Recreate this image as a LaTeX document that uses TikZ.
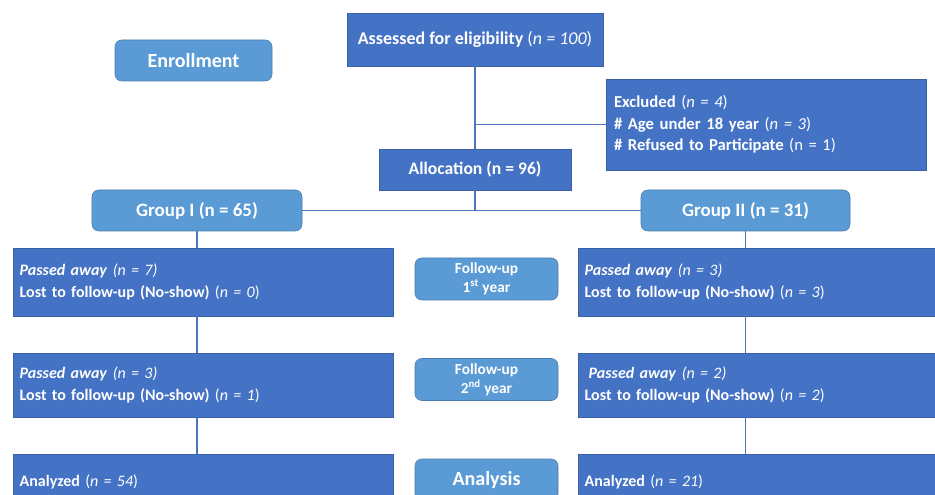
\documentclass[tikz,border=0pt]{standalone}
\usepackage{fontspec}
\setmainfont{Carlito}
\usetikzlibrary{calc,positioning}
\definecolor{darkbox}{HTML}{4472C4}
\definecolor{lightbox}{HTML}{5B9BD5}
\definecolor{linkblue}{HTML}{4A74BE}
\newcommand{\nn}[1]{\textnormal{(\textit{n = #1})}}
\newcommand{\pn}[1]{\textnormal{\textit{(n = #1)}}}

\tikzset{
  darkfill/.style={rectangle, fill=darkbox, draw=darkbox!85!black, line width=0.4pt,
    text=white, font=\bfseries\fontsize{12}{16.5}\selectfont, inner sep=0pt},
  leftbox/.style={darkfill, align=left, text width=#1, inner xsep=5pt},
  stagebox/.style={rectangle, rounded corners=5pt, fill=lightbox, draw=lightbox!80!black,
    line width=0.4pt, text=white, align=center, inner sep=0pt},
  link/.style={draw=linkblue, line width=1.1pt}
}

\begin{document}
\begin{tikzpicture}[x=0.75pt,y=-0.75pt]
\useasboundingbox (0,0) rectangle (935,495);
\clip (0,0) rectangle (935,495);

% stages
\node[stagebox, minimum width=117.75pt, minimum height=30.75pt,
  font=\bfseries\fontsize{15}{17}\selectfont] (enroll) at (193.5,60.5) {Enrollment};
\node[stagebox, minimum width=107.25pt, minimum height=31.5pt,
  font=\bfseries\fontsize{11.5}{14}\selectfont] (fup1) at (486.5,279) {Follow-up\\1\textsuperscript{st} year};
\node[stagebox, minimum width=107.25pt, minimum height=31.5pt,
  font=\bfseries\fontsize{11.5}{14}\selectfont] (fup2) at (486.5,379.5) {Follow-up\\2\textsuperscript{nd} year};
\node[stagebox, minimum width=107.25pt, minimum height=31.5pt,
  font=\bfseries\fontsize{15}{17}\selectfont] (anal) at (486.5,480) {Analysis};

% enrollment
\node[darkfill, minimum width=192pt, minimum height=39.75pt,
  font=\bfseries\fontsize{13.5}{15}\selectfont] (assess) at (475,39.5)
  {Assessed for eligibility \nn{100}};
\node[leftbox=228pt, minimum height=68.25pt, inner xsep=6pt,
  font=\bfseries\fontsize{12.5}{16}\selectfont] (excl) at (766,124.5)
  {Excluded \nn{4}\\\# Age under 18 year \nn{3}\\\# Refused to Participate \textnormal{(n = 1)}};
\node[darkfill, minimum width=144pt, minimum height=30.75pt,
  font=\bfseries\fontsize{13.2}{15}\selectfont] (alloc) at (475,169.5) {Allocation (n = 96)};

% groups
\node[stagebox, minimum width=157.5pt, minimum height=30.75pt,
  font=\bfseries\fontsize{14.2}{16}\selectfont] (grpI) at (197,210.5) {Group I (n = 65)};
\node[stagebox, minimum width=156.75pt, minimum height=30.75pt,
  font=\bfseries\fontsize{14.2}{16}\selectfont] (grpII) at (745.5,210.5) {Group II (n = 31)};

% group I follow-up
\node[leftbox=275pt, minimum height=51pt] (leftA) at (203,282)
  {\textit{Passed away} \pn{7}\\Lost to follow-up (No-show) \nn{0}};
\node[leftbox=275pt, minimum height=48pt] (leftB) at (203,385)
  {\textit{Passed away} \pn{3}\\Lost to follow-up (No-show) \nn{1}};
\node[leftbox=275pt, minimum height=40.5pt] (leftC) at (203,481.5)
  {Analyzed \nn{54}};

% group II follow-up
\node[leftbox=265.25pt, minimum height=51pt] (rightA) at (761.5,282)
  {\textit{Passed away} \pn{3}\\Lost to follow-up (No-show) \nn{3}};
\node[leftbox=265.25pt, minimum height=48pt] (rightB) at (761.5,385)
  {\hspace*{3pt}\textit{Passed away} \pn{2}\\Lost to follow-up (No-show) \nn{2}};
\node[leftbox=265.25pt, minimum height=40.5pt] (rightC) at (761.5,481.5)
  {Analyzed \nn{21}};

% connectors
\coordinate (split) at (assess.south |- excl.west);
\coordinate (fork) at (alloc.south |- grpI.east);
\draw[link] (assess.south) -- (alloc.north);
\draw[link] (split) -- (excl.west);
\draw[link] (alloc.south) -- (fork);
\draw[link] (grpI.east) -- (grpII.west);
\draw[link] (grpI.south) -- (grpI.south |- leftA.north);
\draw[link] (grpI.south |- leftA.south) -- (grpI.south |- leftB.north);
\draw[link] (grpI.south |- leftB.south) -- (grpI.south |- leftC.north);
\draw[link] (grpII.south) -- (grpII.south |- rightA.north);
\draw[link] (grpII.south |- rightA.south) -- (grpII.south |- rightB.north);
\draw[link] (grpII.south |- rightB.south) -- (grpII.south |- rightC.north);
\end{tikzpicture}
\end{document}
